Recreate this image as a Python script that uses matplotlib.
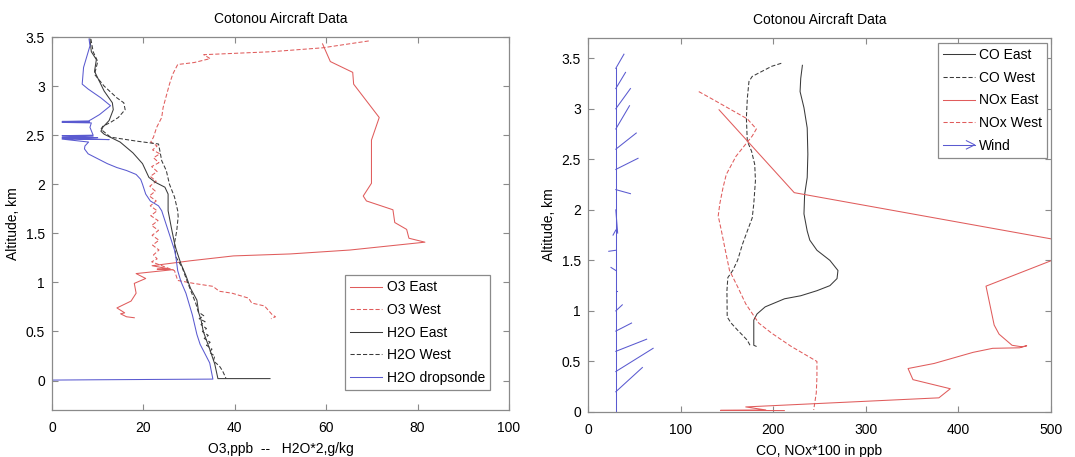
#!/usr/bin/env python

'''Cotonou aircraft profiles: O3 / H2O and CO / NOx / wind against altitude'''

import numpy as np
from matplotlib.pyplot import figure, rcParams
from matplotlib.legend_handler import HandlerBase
from matplotlib.lines import Line2D

rcParams['font.family'] = ['Liberation Sans', 'DejaVu Sans']
rcParams['font.size'] = 9

RED = '#e05c5c'
BLUE = '#5a5ad0'
BLACK = '#3a3a3a'
FRAME = '#8a8a8a'

# ---- left panel: O3 (ppb) and H2O*2 (g/kg) ----

o3_east_alt = [3.43, 3.25, 3.14, 3.02, 2.68, 2.45, 2.01, 1.88, 1.83, 1.74, 1.61, 1.54, 1.45, 1.41,
               1.33, 1.29, 1.27, 1.22, 1.17, 1.14, 1.135, 1.13, 1.09, 1.04, 0.99, 0.89, 0.81, 0.74,
               0.69, 0.68, 0.65, 0.64]
o3_east = [59.2, 60.9, 65.8, 66.0, 71.6, 69.9, 69.9, 68.1, 68.8, 74.6, 75.0, 77.6, 78.1, 81.6,
           65.2, 52.1, 39.7, 30.2, 21.9, 25.4, 23.0, 26.5, 18.4, 20.5, 18.0, 18.4, 17.3, 14.2,
           15.9, 15.0, 16.3, 18.0]

o3_west_alt = [3.46, 3.39, 3.35, 3.33, 3.32, 3.28, 3.24, 3.22, 3.12, 3.02, 2.90, 2.78, 2.68, 2.58,
               2.48, 2.43, 2.39, 2.35, 2.31, 2.27, 2.22, 2.18, 2.13, 2.08, 2.03, 1.98, 1.93, 1.88,
               1.83, 1.78, 1.73, 1.68, 1.63, 1.58, 1.53, 1.48, 1.43, 1.38, 1.33, 1.28, 1.24, 1.21,
               1.12, 1.02, 0.99, 0.96, 0.91, 0.89, 0.84, 0.79, 0.76, 0.67, 0.65, 0.63]
o3_west = [69.3, 59.2, 47.9, 38.1, 33.2, 34.6, 31.1, 27.5, 26.4, 25.7, 25.0, 24.3, 24.0, 22.9,
           22.2, 21.6, 23.0, 22.0, 23.6, 22.2, 23.4, 21.8, 23.0, 21.5, 22.8, 21.4, 22.6, 21.3,
           22.8, 21.5, 23.0, 21.6, 23.2, 21.8, 23.3, 21.9, 23.4, 22.0, 23.4, 22.2, 23.0, 21.8,
           26.8, 27.5, 31.0, 35.2, 36.6, 39.4, 43.0, 43.7, 46.5, 48.2, 48.9, 47.9]

h2o_east_alt = [3.48, 3.35, 3.27, 3.15, 2.95, 2.83, 2.76, 2.65, 2.58, 2.54, 2.51, 2.43, 2.32, 2.21,
                2.07, 2.02, 1.97, 1.90, 1.73, 1.56, 1.40, 1.33, 1.19, 1.07, 0.94, 0.82, 0.69, 0.62,
                0.50, 0.32, 0.17, 0.02, 0.02]
h2o_east = [8.3, 8.6, 9.7, 9.3, 11.4, 13.2, 13.4, 12.5, 11.1, 10.7, 11.4, 14.9, 17.7, 19.8,
            21.2, 22.6, 24.7, 25.4, 25.4, 26.1, 26.8, 27.2, 28.2, 29.3, 30.3, 31.7, 32.1, 32.6,
            33.1, 34.5, 35.6, 36.3, 47.7]

h2o_west_alt = [3.48, 3.35, 3.25, 3.12, 3.00, 2.88, 2.83, 2.76, 2.68, 2.63, 2.59, 2.56, 2.48, 2.44,
                2.41, 2.34, 2.24, 2.14, 2.00, 1.87, 1.73, 1.67, 1.53, 1.40, 1.26, 1.15, 1.02, 0.90,
                0.78, 0.70, 0.66, 0.63, 0.60, 0.57, 0.53, 0.50, 0.46, 0.43, 0.39, 0.36, 0.32, 0.29,
                0.25, 0.20, 0.15, 0.10, 0.03, 0.02]
h2o_west = [8.5, 9.0, 10.0, 9.3, 11.4, 14.2, 15.7, 16.0, 14.5, 12.8, 11.1, 10.7, 12.8, 18.4,
            23.3, 23.6, 24.0, 25.0, 25.7, 26.8, 27.5, 27.6, 27.3, 26.8, 27.1, 28.5, 29.5, 30.5,
            31.5, 32.0, 33.2, 32.2, 33.5, 32.6, 33.8, 32.9, 34.2, 33.3, 34.6, 33.8, 35.0, 34.4,
            35.6, 35.3, 36.6, 37.3, 38.0, 38.0]

sonde_alt = [3.48, 3.41, 3.30, 3.19, 3.02, 2.97, 2.88, 2.80, 2.71, 2.66, 2.645, 2.64, 2.635, 2.63,
             2.625, 2.58, 2.50, 2.495, 2.49, 2.48, 2.475, 2.47, 2.455, 2.46, 2.43, 2.39, 2.36, 2.31,
             2.26, 2.21, 2.17, 2.14, 2.10, 2.05, 2.00, 1.90, 1.83, 1.78, 1.73, 1.63, 1.53, 1.43,
             1.33, 1.26, 1.12, 1.01, 0.89, 0.67, 0.47, 0.37, 0.18, 0.015, 0.008, 0.005]
sonde = [8.1, 8.3, 7.6, 6.9, 6.6, 7.9, 10.7, 12.8, 10.4, 8.6, 8.0, 2.2, 8.2, 2.2,
         8.6, 8.3, 9.0, 2.2, 9.0, 2.2, 10.0, 2.2, 12.5, 2.2, 8.0, 7.2, 7.1, 7.9,
         10.0, 12.1, 14.2, 16.3, 18.4, 19.4, 19.8, 20.5, 21.5, 23.3, 24.0, 24.7, 25.4, 26.1,
         26.8, 27.1, 27.5, 28.2, 29.3, 30.7, 31.7, 32.4, 34.5, 35.2, 8.9, 0.0]

# ---- right panel: CO (ppb), NOx*100 (ppb), wind ----

co_east_alt = [3.43, 3.30, 3.17, 3.01, 2.81, 2.55, 2.32, 2.15, 1.96, 1.79, 1.70, 1.60, 1.50, 1.40,
               1.32, 1.25, 1.20, 1.15, 1.12, 1.04, 0.97, 0.91, 0.66, 0.65]
co_east = [231.5, 229.7, 229.0, 233.2, 236.7, 237.4, 236.7, 233.9, 233.2, 236.7, 239.5, 247.2,
           261.2, 269.9, 268.9, 261.2, 247.2, 229.7, 212.2, 191.3, 182.5, 179.0, 179.0, 181.5]

co_west_alt = [3.45, 3.42, 3.37, 3.32, 3.27, 3.10, 2.91, 2.68, 2.58, 2.45, 2.29, 2.06, 1.92, 1.79,
               1.66, 1.50, 1.40, 1.33, 1.20, 0.94, 0.88, 0.81, 0.76, 0.71, 0.65]
co_west = [208.7, 198.3, 187.8, 177.3, 173.8, 172.0, 171.0, 172.0, 176.6, 180.0, 180.8, 179.0,
           177.3, 172.0, 166.8, 161.5, 156.3, 151.0, 150.0, 150.3, 154.5, 161.5, 166.8, 172.0, 175.5]

nox_east_alt = [2.99, 2.17, 1.71, 1.62, 1.50, 1.245, 0.86, 0.77, 0.66, 0.645, 0.655, 0.635, 0.63,
                0.59, 0.48, 0.43, 0.32, 0.23, 0.14, 0.05, 0.02, 0.016, 0.014]
nox_east = [141.5, 222.7, 501.8, 540.0, 501.0, 429.8, 438.6, 443.9, 457.9, 468.4, 473.7, 466.0,
            437.0, 415.8, 373.7, 345.6, 350.9, 391.2, 378.9, 170.3, 192.0, 143.0, 212.0]

nox_west_alt = [3.17, 3.09, 2.90, 2.80, 2.73, 2.67, 2.53, 2.35, 2.22, 2.06, 1.94, 1.79, 1.63, 1.40,
                1.24, 1.07, 0.88, 0.78, 0.65, 0.50, 0.35, 0.19, 0.02]
nox_west = [119.6, 135.3, 172.0, 181.8, 177.3, 172.0, 159.8, 149.3, 145.8, 142.3, 140.6, 144.1,
            147.6, 152.8, 161.5, 170.3, 184.3, 198.3, 219.2, 247.2, 247.2, 246.5, 243.7]

# wind vectors drawn from the x = 30 staff; dx in plot units, dz in km
wind_x0 = 30.0
wind_alt = [0.2, 0.4, 0.6, 0.8, 1.0, 1.2, 1.4, 1.6, 1.8, 2.0, 2.2, 2.4, 2.6, 2.8, 3.0, 3.2, 3.4]
wind_dx = [28.7, 40.3, 33.3, 17.0, 7.0, 1.0, -5.2, -7.6, -3.0, 2.0, 15.8, 24.0, 22.1, 14.8, 15.8, 10.5, 8.8]
wind_dz = [0.24, 0.23, 0.12, 0.08, 0.06, 0.0, 0.03, -0.01, -0.05, -0.23, -0.04, 0.11, 0.16, 0.23, 0.20, 0.16, 0.14]


class HandlerArrow(HandlerBase):
    '''Legend entry drawn as a line with an open arrow head.'''
    def create_artists(self, legend, orig_handle, xdescent, ydescent, width, height, fontsize, trans):
        y = height / 2 - ydescent
        x0 = -xdescent
        x1 = width - xdescent
        kw = dict(color=orig_handle.get_color(), lw=orig_handle.get_linewidth(), transform=trans)
        shaft = Line2D([x0, x1], [y, y], **kw)
        head = Line2D([x1 - 6, x1, x1 - 6], [y + 3, y, y - 3], **kw)
        return [shaft, head]


LEGEND_KW = dict(fontsize=10, fancybox=False, edgecolor=FRAME, framealpha=1, handlelength=2.3,
                 borderpad=0.36, labelspacing=0.62, handletextpad=0.3, borderaxespad=0)


def style_axes(ax, xlim, ylim, xticks, yticks):
    ax.set_xlim(*xlim)
    ax.set_ylim(*ylim)
    ax.set_xticks(xticks)
    ax.set_yticks(yticks)
    ax.set_yticklabels(['%g' % t for t in yticks])
    ax.tick_params(direction='in', length=4, width=0.8, color=FRAME, top=True, right=True,
                   labelsize=10)
    ax.tick_params(axis='x', pad=8)
    ax.tick_params(axis='y', pad=5)
    for spine in ax.spines.values():
        spine.set_color(FRAME)
        spine.set_linewidth(0.9)
    ax.set_ylabel('Altitude, km', fontsize=10, labelpad=4)
    ax.set_title('Cotonou Aircraft Data', fontsize=10, pad=10)


if __name__ == '__main__':
    fig = figure(figsize=(10.75, 4.57), dpi=100)

    lw = 0.75
    dash = (0, (4, 2))
    ax1 = fig.add_axes([0.0484, 0.1028, 0.4251, 0.8162])
    ax1.plot(o3_east, o3_east_alt, color=RED, lw=lw, label='O3 East')
    ax1.plot(o3_west, o3_west_alt, color=RED, lw=lw, ls=dash, label='O3 West')
    ax1.plot(h2o_east, h2o_east_alt, color=BLACK, lw=lw, label='H2O East')
    ax1.plot(h2o_west, h2o_west_alt, color=BLACK, lw=lw, ls=dash, label='H2O West')
    ax1.plot(sonde, sonde_alt, color=BLUE, lw=lw, label='H2O dropsonde')
    style_axes(ax1, (0, 100), (-0.3, 3.5), np.arange(0, 101, 20), np.arange(0, 3.51, 0.5))
    ax1.set_xlabel('O3,ppb  --   H2O*2,g/kg', fontsize=10, labelpad=5)
    leg1 = ax1.legend(loc='lower right', bbox_to_anchor=(0.958, 0.054), **LEGEND_KW)
    leg1.get_frame().set_linewidth(0.9)

    ax2 = fig.add_axes([0.547, 0.0985, 0.4307, 0.8183])
    ax2.plot(co_east, co_east_alt, color=BLACK, lw=lw, label='CO East')
    ax2.plot(co_west, co_west_alt, color=BLACK, lw=lw, ls=dash, label='CO West')
    ax2.plot(nox_east, nox_east_alt, color=RED, lw=lw, label='NOx East')
    ax2.plot(nox_west, nox_west_alt, color=RED, lw=lw, ls=dash, label='NOx West')
    ax2.plot([wind_x0, wind_x0], [0, wind_alt[-1]], color=BLUE, lw=lw)
    for z, dx, dz in zip(wind_alt, wind_dx, wind_dz):
        ax2.plot([wind_x0, wind_x0 + dx], [z, z + dz], color=BLUE, lw=lw)
    wind_handle = Line2D([], [], color=BLUE, lw=lw)
    style_axes(ax2, (0, 500), (0, 3.7), np.arange(0, 501, 100), np.arange(0, 3.51, 0.5))
    ax2.set_xlabel('CO, NOx*100 in ppb', fontsize=10, labelpad=5)
    handles, labels = ax2.get_legend_handles_labels()
    handles = handles[:4] + [wind_handle]
    labels = labels[:4] + ['Wind']
    leg2 = ax2.legend(handles, labels, loc='upper right', bbox_to_anchor=(0.991, 0.986),
                      handler_map={wind_handle: HandlerArrow()}, **LEGEND_KW)
    leg2.get_frame().set_linewidth(0.9)

    fig.savefig('out.png', dpi=100)
